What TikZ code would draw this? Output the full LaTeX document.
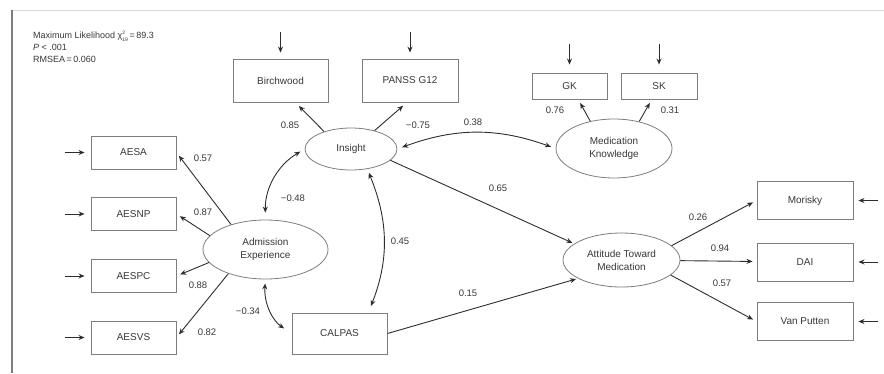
\documentclass[tikz,border=0pt]{standalone}
\usepackage{fontspec}
\setmainfont{Liberation Sans}
\usepackage{tikz}
\usetikzlibrary{shapes.geometric, arrows.meta, positioning, calc}
\definecolor{mygray}{RGB}{125,125,125}
\definecolor{mydark}{RGB}{45,45,45}
\definecolor{mytext}{RGB}{55,55,55}
\definecolor{myrule}{RGB}{215,215,215}
\tikzset{
  obs/.style={rectangle, draw=mygray, line width=0.9pt, text=mytext,
    font=\fontsize{10}{12}\selectfont, inner sep=0pt},
  latent/.style={ellipse, draw=mygray, line width=0.8pt, text=mytext, align=center,
    font=\fontsize{10}{13}\selectfont, inner sep=0pt},
  effect/.style={-{Stealth[length=6pt,width=5pt]}, line width=0.9pt, color=mydark},
  corr/.style={{Stealth[length=6pt,width=5pt]}-{Stealth[length=6pt,width=5pt]},
    line width=0.9pt, color=mydark},
  coef/.style={font=\fontsize{9.5}{11}\selectfont, text=mytext, inner sep=0pt}
}

\begin{document}
\begin{tikzpicture}[x=1pt, y=-1pt]
\useasboundingbox (0,0) rectangle (884,373);
% frame
\draw[myrule, line width=0.8pt] (12,10) -- (884,10);
\draw[mygray, line width=1.5pt] (12,10) -- (12,373);
\node[anchor=north west, align=left, inner sep=0pt, text=mytext,
  font=\fontsize{9}{12}\selectfont] (fit) at (33,31)
  {Maximum Likelihood χ\rlap{\raisebox{4.2pt}{\fontsize{5}{5}\selectfont 2}}\raisebox{-2.6pt}{\fontsize{5}{5}\selectfont 19}\,=\,89.3\\
   \textit{P} < .001\\ RMSEA\,=\,0.060};

% latent variables
\node[latent, minimum width=92pt, minimum height=42pt] (ins) at (351,149) {Insight};
\node[latent, minimum width=116pt, minimum height=59pt] (medk) at (614,148.5) {Medication\\Knowledge};
\node[latent, minimum width=125pt, minimum height=59pt] (adm) at (265.5,249.5) {Admission\\Experience};
\node[latent, minimum width=117pt, minimum height=54pt] (att) at (621.5,260) {Attitude Toward\\Medication};

% indicators
\node[obs, minimum width=95pt, minimum height=43pt] (birch) at (280.5,80.5) {Birchwood};
\node[obs, minimum width=96pt, minimum height=43pt] (panss) at (410,80.5) {PANSS G12};
\node[obs, minimum width=75pt, minimum height=26pt] (gk) at (569.5,86) {GK};
\node[obs, minimum width=76pt, minimum height=26pt] (sk) at (659,86) {SK};
\node[obs, minimum width=95pt, minimum height=41pt] (calpas) at (339.5,333.5) {CALPAS};
\foreach \nm/\lbl/\y in {aesa/AESA/152.5, aesnp/AESNP/214, aespc/AESPC/276, aesvs/AESVS/337.5} {
  \node[obs, minimum width=85pt, minimum height=33pt] (\nm) at (133.5,\y) {\lbl};
  \draw[effect, shorten >=6pt] ($(\nm.west)+(-26,0)$) -- (\nm.west);
}
\foreach \nm/\lbl/\y in {mor/Morisky/200.5, dai/DAI/262, vanp/Van Putten/321.5} {
  \node[obs, minimum width=96pt, minimum height=38pt] (\nm) at (805,\y) {\lbl};
  \draw[effect, shorten >=5pt] ($(\nm.east)+(25,0)$) -- (\nm.east);
}
\foreach \nm in {birch, panss} {
  \draw[effect, shorten >=6pt] ($(\nm.north)+(0,-27)$) -- (\nm.north);
}
\foreach \nm in {gk, sk} {
  \draw[effect, shorten >=8pt] ($(\nm.north)+(0,-29)$) -- (\nm.north);
}

% loadings
\draw[effect, shorten >=5pt] (ins.147) -- (birch.-56);
\draw[effect, shorten >=5pt] (ins.38) -- (panss.-98);
\draw[effect, shorten >=4pt] (medk.131) -- (gk.-57);
\draw[effect, shorten >=4pt] (medk.47) -- (sk.-118);
\foreach \nm/\ang in {aesa/144, aesnp/166, aespc/193, aesvs/213.5} {
  \draw[effect, shorten >=4pt] (adm.\ang) -- (\nm.east);
}
\draw[effect, shorten >=4pt] (att.16.5) -- (mor.west);
\draw[effect, shorten >=4pt] (att) -- (dai);
\draw[effect, shorten >=4pt] (att.-17) -- (vanp.west);

% structural paths
\draw[effect, shorten >=2pt] (ins.-16) -- (att.161);
\draw[effect, shorten >=2pt] (calpas.east) -- (att.-157);
\draw[corr, shorten <=5pt, shorten >=5pt] (ins.east) to[bend left=20] (medk.west);
\draw[corr, shorten <=7pt, shorten >=5pt] (adm.north) to[bend left=30] (ins.west);
\draw[corr, shorten <=4pt, shorten >=7pt] (ins.-51) to[bend left=22] (calpas.36);
\draw[corr, shorten <=4pt, shorten >=9pt] (adm.south) to[bend right=30] (calpas.west);

% coefficients
\foreach \val/\x/\y in {0.85/290/125, −0.75/418/125, 0.38/473/122, 0.76/555/110,
  0.31/670/110, 0.57/203/158, 0.87/203/212, 0.88/198/285, 0.82/207/332,
  −0.48/293/198, −0.34/248/311, 0.45/400/241, 0.65/498/188, 0.15/468/293,
  0.26/698/217, 0.94/720/248, 0.57/722/283} {
  \node[coef] at (\x,\y) {\val};
}
\end{tikzpicture}
\end{document}
